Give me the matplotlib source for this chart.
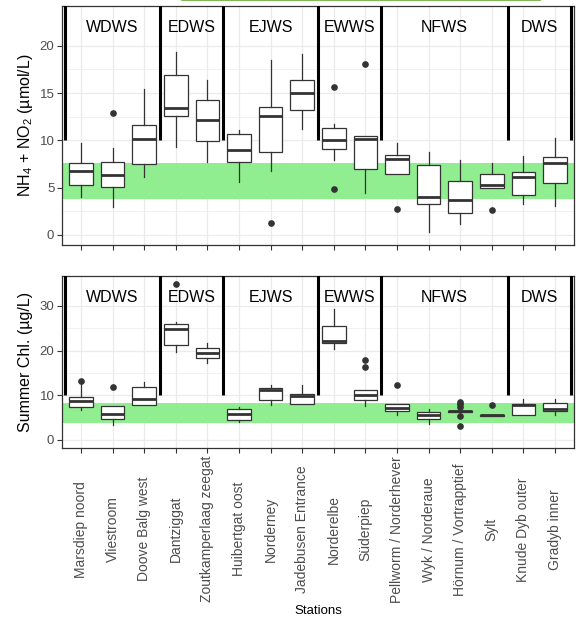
import numpy as np
import matplotlib
matplotlib.use("Agg")
import matplotlib.pyplot as plt
from matplotlib.lines import Line2D

plt.rcParams['font.family'] = ['Liberation Sans', 'DejaVu Sans']
plt.rcParams['mathtext.default'] = 'regular'

stations = ["Marsdiep noord", "Vliestroom", "Doove Balg west", "Dantziggat",
            "Zoutkamperlaag zeegat", "Huibertgat oost", "Norderney",
            "Jadebusen Entrance", "Norderelbe", "Süderpiep",
            "Pellworm / Norderhever", "Wyk / Norderaue", "Hörnum / Vortrapptief",
            "Sylt", "Knude Dyb outer", "Gradyb inner"]

groups = ["WDWS", "EDWS", "EJWS", "EWWS", "NFWS", "DWS"]
group_sizes = [3, 2, 3, 2, 4, 2]

# NH4 + NO2 (umol/L) box stats
nh_lo = [4.0, 3.0, 6.1, 9.35, 7.75, 5.65, 6.8, 11.25, 7.95, 4.4, 6.4, 0.35, 1.15, 4.95, 3.3, 3.1]
nh_q1 = [5.25, 5.1, 7.5, 12.55, 9.95, 7.7, 8.75, 13.2, 9.05, 7.0, 6.4, 3.3, 2.3, 4.95, 4.25, 5.45]
nh_med = [6.8, 6.3, 10.15, 13.45, 12.1, 9.0, 12.55, 15.0, 10.0, 10.1, 8.05, 4.05, 3.7, 5.3, 6.1, 7.65]
nh_q3 = [7.6, 7.7, 11.6, 16.9, 14.25, 10.65, 13.5, 16.35, 11.3, 10.45, 8.45, 7.35, 5.7, 6.4, 6.65, 8.2]
nh_hi = [9.7, 9.2, 15.4, 19.3, 16.4, 11.05, 18.5, 19.1, 11.75, 10.45, 9.7, 8.8, 7.95, 7.65, 8.3, 10.25]
nh_out = [[], [12.9], [], [], [], [], [1.3], [], [15.6, 4.9], [18.05], [2.75], [], [], [2.6], [], []]

# Summer chlorophyll (ug/L)
chl_lo = [6.8, 3.35, 7.75, 19.7, 17.3, 4.0, 7.75, 7.95, 20.4, 7.65, 5.6, 3.6, 6.0, 5.35, 5.65, 5.6]
chl_q1 = [7.4, 4.75, 7.75, 21.35, 18.3, 4.5, 9.0, 7.95, 21.8, 9.05, 6.4, 4.75, 6.25, 5.4, 5.65, 6.4]
chl_med = [8.7, 5.85, 9.2, 24.9, 19.45, 5.8, 11.2, 9.75, 22.2, 10.0, 7.25, 5.6, 6.4, 5.5, 7.8, 6.9]
chl_q3 = [9.6, 7.5, 11.95, 25.9, 20.55, 6.9, 11.6, 10.2, 25.5, 11.25, 8.0, 6.25, 6.55, 5.6, 8.05, 8.25]
chl_hi = [13.1, 7.5, 12.9, 26.3, 21.6, 7.4, 12.4, 12.3, 29.3, 11.25, 8.0, 6.9, 6.8, 5.65, 9.15, 9.2]
chl_out = [[13.3], [11.9], [], [34.9], [], [], [], [], [], [16.4, 17.8], [12.3], [],
           [8.6, 8.1, 7.45, 5.45, 3.2], [7.9], [], []]

nh_band = (3.8, 7.6)
chl_band = (3.8, 8.3)

grey20 = "#333333"
grey30 = "#4D4D4D"
grid_c = "#EBEBEB"


def make_stats(lo, q1, med, q3, hi, out):
    stats = []
    for i in range(len(lo)):
        stats.append(dict(whislo=lo[i], q1=q1[i], med=med[i], q3=q3[i],
                          whishi=hi[i], fliers=out[i]))
    return stats


def draw_panel(ax, stats, band, ylim, yticks, label_y):
    pos = np.arange(1, len(stations) + 1)
    ax.bxp(stats, positions=pos, widths=0.75, showcaps=False, patch_artist=True,
           manage_ticks=False,
           boxprops=dict(facecolor="white", edgecolor=grey20, lw=0.9),
           medianprops=dict(color=grey20, lw=2.0),
           whiskerprops=dict(color=grey20, lw=0.9),
           flierprops=dict(marker='o', markerfacecolor=grey20, markeredgecolor=grey20,
                           markersize=3.8),
           zorder=3)

    ax.set_xlim(0.4, len(stations) + 0.6)
    ax.set_ylim(*ylim)
    ax.set_yticks(yticks)
    minor = [(a + b) / 2 for a, b in zip(yticks[:-1], yticks[1:])]
    ax.set_yticks(minor, minor=True)
    ax.set_xticks(pos)
    ax.grid(True, which='major', color=grid_c, lw=0.9, zorder=0)
    ax.grid(True, which='minor', axis='y', color=grid_c, lw=0.5, zorder=0)
    ax.set_axisbelow(True)

    ax.axhspan(band[0], band[1], color="#90EE90", lw=0, zorder=1)

    # group separators and names
    edges = np.concatenate([[0], np.cumsum(group_sizes)]) + 0.5
    ax.vlines(edges, 10, 200, color="black", lw=2.2, zorder=4)
    for g, a, b in zip(groups, edges[:-1], edges[1:]):
        ax.text((a + b) / 2, label_y, g, ha='center', va='center', fontsize=11.5, zorder=5)

    for s in ax.spines.values():
        s.set_color(grey20)
        s.set_linewidth(0.9)
    ax.tick_params(axis='both', which='major', direction='out', length=3.5, width=0.8,
                   color=grey20, labelcolor=grey30, labelsize=9.5, pad=2)
    ax.tick_params(axis='y', which='minor', length=0)


fig = plt.figure(figsize=(5.76, 6.21), dpi=100)
ax1 = fig.add_axes([62 / 576, 1 - 245 / 621, 512 / 576, 239 / 621])
ax2 = fig.add_axes([62 / 576, 1 - 448 / 621, 512 / 576, 172 / 621])

draw_panel(ax1, make_stats(nh_lo, nh_q1, nh_med, nh_q3, nh_hi, nh_out),
           nh_band, (-1.06, 24.2), [0, 5, 10, 15, 20], 21.9)
draw_panel(ax2, make_stats(chl_lo, chl_q1, chl_med, chl_q3, chl_hi, chl_out),
           chl_band, (-1.8, 36.7), [0, 10, 20, 30], 31.9)

ax1.set_xticklabels([])
# labels centred vertically on a common line, like ggplot's angle = 90
ax2.set_xticklabels(stations, rotation=90, ha='center', va='center', fontsize=10)
ax2.tick_params(axis='x', pad=55)

ax1.set_ylabel("NH$_4$ + NO$_2$ (µmol/L)", fontsize=11.5, va='center')
ax1.yaxis.set_label_coords(-0.071, 0.5)
ax2.set_ylabel("Summer Chl. (µg/L)", fontsize=11.5, va='center')
ax2.yaxis.set_label_coords(-0.072, 0.5)

fig.text(318 / 576, 1 - 611 / 621, "Stations", ha='center', va='center', fontsize=9.5)

# green strip at the very top edge
fig.add_artist(Line2D([182 / 576, 540 / 576], [0.9995, 0.9995], color="#6AAA3A", lw=1.2))

fig.savefig("out.png", dpi=100)
